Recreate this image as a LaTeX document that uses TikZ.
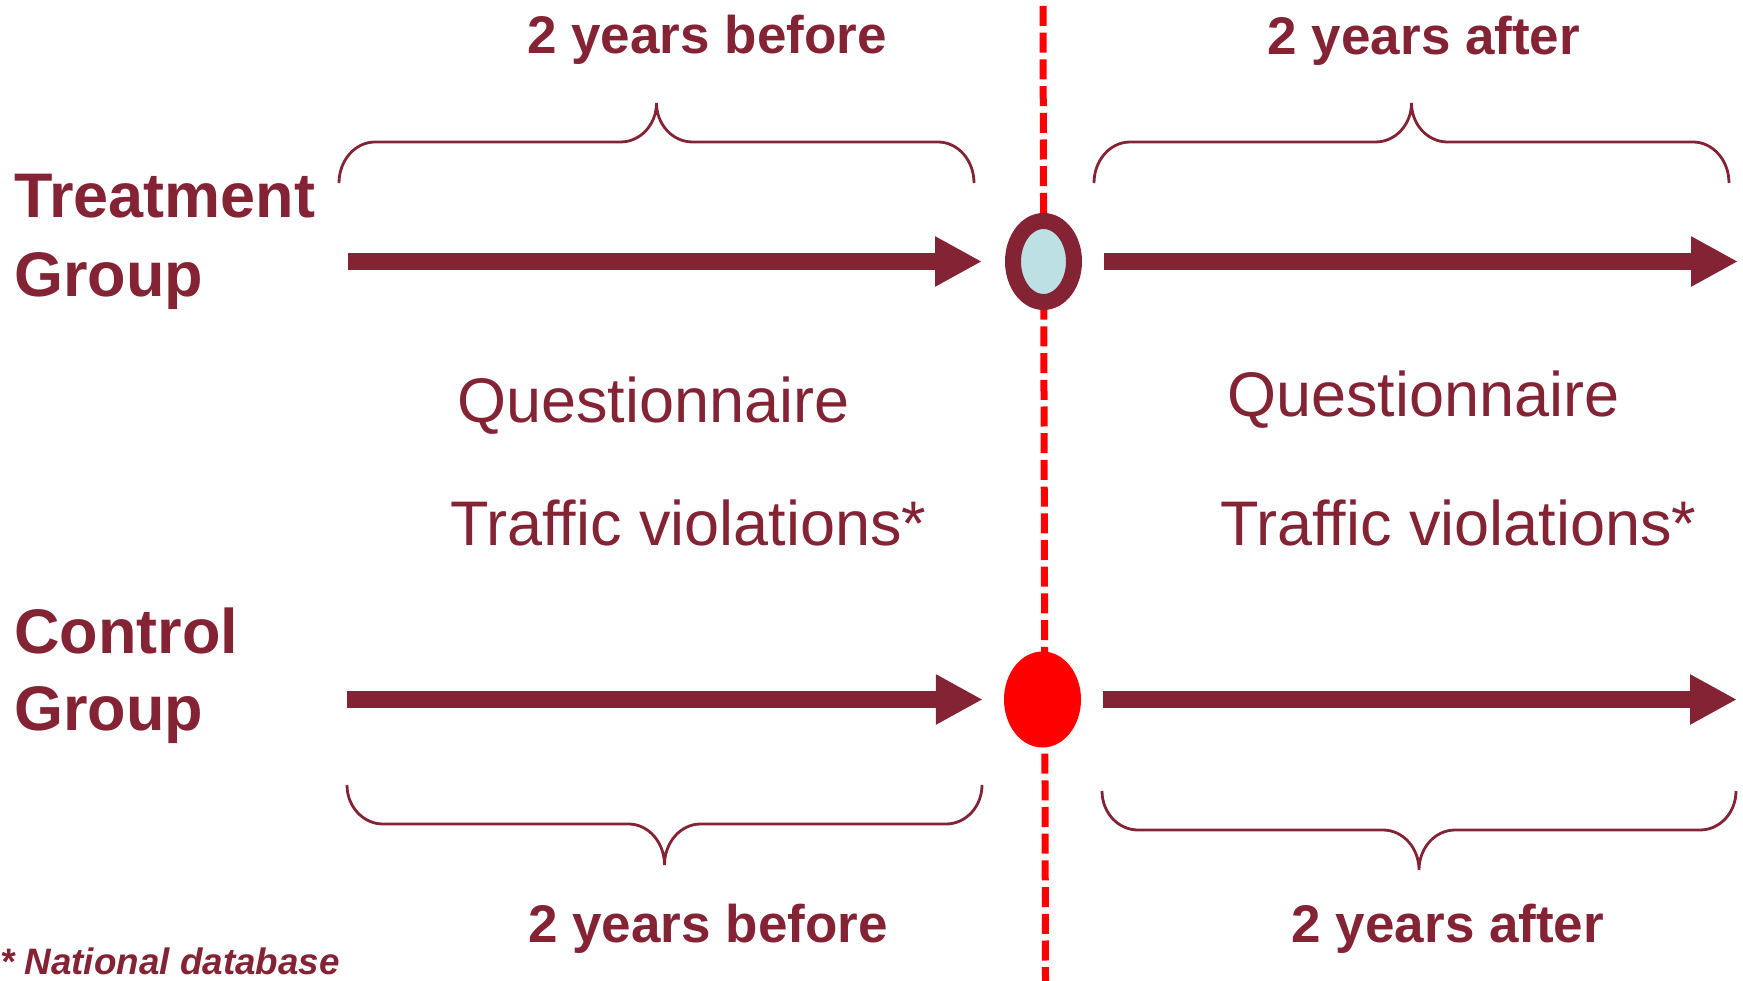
\documentclass[tikz,border=0pt]{standalone}
\usepackage{fontspec}
\setmainfont{Liberation Sans}
\usetikzlibrary{arrows.meta,shapes.geometric}
\definecolor{wine}{RGB}{131,35,52}
\definecolor{paleblue}{RGB}{188,224,228}
\definecolor{signalred}{RGB}{255,0,0}

% curly brace: #1 left x, #2 right x, #3 y of the ends, #4 y of the bar, #5 y of the tip
\newcommand\timebrace[5]{%
  \pgfmathsetmacro\bm{(#1+#2)/2}%
  \draw[bracestyle] (#1,#3) .. controls (#1,{#3+0.55*(#4-#3)}) and ({#1+16},#4) .. ({#1+36},#4)
    -- ({\bm-36},#4) .. controls ({\bm-16},#4) and (\bm,{#4+0.45*(#5-#4)}) .. (\bm,#5)
    .. controls (\bm,{#4+0.45*(#5-#4)}) and ({\bm+16},#4) .. ({\bm+36},#4)
    -- ({#2-36},#4) .. controls ({#2-16},#4) and (#2,{#3+0.55*(#4-#3)}) .. (#2,#3);
}

\begin{document}
\begin{tikzpicture}[x=1pt,y=-1pt,
  period/.style={text=wine, inner sep=0pt, anchor=base, font=\bfseries\fontsize{53}{60}\selectfont},
  grouplabel/.style={text=wine, inner sep=0pt, anchor=base west, font=\bfseries\fontsize{63}{70}\selectfont},
  measure/.style={text=wine, inner sep=0pt, anchor=base west, font=\fontsize{63}{70}\selectfont},
  note/.style={text=wine, inner sep=0pt, anchor=base west, font=\bfseries\itshape\fontsize{36.8}{40}\selectfont},
  timeline/.style={wine, line width=17pt, -{Triangle[length=47pt,width=47pt]}},
  bracestyle/.style={wine, line width=2.8pt},
  cutline/.style={signalred, line width=7pt, dash pattern=on 20pt off 6.7pt},
]
\path[use as bounding box] (0,0) rectangle (1743,981);

% intervention line
\coordinate (dtop) at (1043,6);
\coordinate (dbot) at (1045.5,981);
\draw[cutline] (dtop) -- (dbot);

% moments of measurement
\node[ellipse, draw=wine, line width=16pt, fill=paleblue, inner sep=0pt,
      minimum width=61pt, minimum height=81pt] (tc) at (1043.5,261.5) {};
\node[ellipse, fill=signalred, inner sep=0pt,
      minimum width=77pt, minimum height=96pt] (cc) at (1042.5,699.5) {};

% timelines
\coordinate (ts) at (348,261.5);
\coordinate (te) at (1738,261.5);
\coordinate (cs) at (347,699.5);
\coordinate (ce) at (1737,699.5);
\draw[timeline, shorten >=23pt] (ts) -- (tc.west);
\draw[timeline, shorten <=22pt] (tc.east) -- (te);
\draw[timeline, shorten >=21pt] (cs) -- (cc.west);
\draw[timeline, shorten <=22pt] (cc.east) -- (ce);

% braces
\timebrace{339}{974}{183}{142}{103}
\timebrace{1094}{1729}{183}{142}{103}
\timebrace{347}{982}{785}{824}{865}
\timebrace{1102}{1736}{791}{830}{870}

% period labels
\node[period] (tb) at (707,54) {2 years before};
\node[period] (ta) at (1424,55) {2 years after};
\node[period] (bb) at (708,942) {2 years before};
\node[period] (ba) at (1448,942) {2 years after};

% group labels
\node[grouplabel] (tg1) at (14,218) {Treatment};
\node[grouplabel] (tg2) at (14,297) {Group};
\node[grouplabel] (cg1) at (14,653) {Control};
\node[grouplabel] (cg2) at (14,730) {Group};

% measures
\node[measure] (q1) at (457,422) {Questionnaire};
\node[measure] (v1) at (450,545) {Traffic violations*};
\node[measure] (q2) at (1227,417) {Questionnaire};
\node[measure] (v2) at (1220,545) {Traffic violations*};

% footnote
\node[note] (fn) at (0,974) {* National database};
\end{tikzpicture}
\end{document}
